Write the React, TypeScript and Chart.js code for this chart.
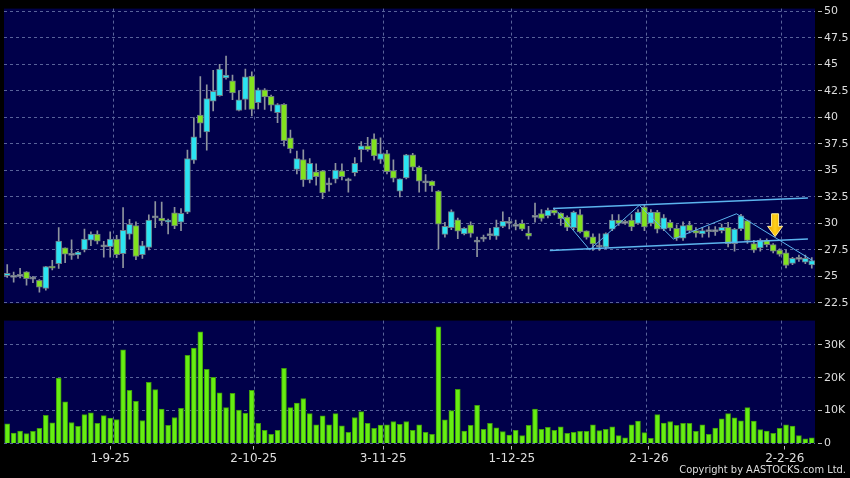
import React, { useEffect, useRef } from "react";
import { Chart, registerables } from "chart.js";

Chart.register(...registerables);

// ---------- data ----------
const openP = [
  25.1, 25.0, 25.1, 25.43, 24.85, 24.63, 23.86, 25.95, 26.2, 27.69,
  27.07, 27.03, 27.5, 28.42, 28.98, 27.9, 27.8, 28.52, 27.13, 28.98,
  29.8, 27.04, 27.72, 30.6, 30.5, 30.1, 31.0, 30.1, 31.05, 35.96,
  40.2, 38.62, 41.53, 42.05, 43.72, 43.44, 40.66, 41.68, 43.89, 41.38,
  42.6, 41.97, 40.43, 41.22, 38.06, 35.09, 36.02, 34.1, 34.85, 34.94,
  33.73, 34.17, 34.94, 34.1, 34.78, 36.94, 37.31, 37.96, 36.02, 36.57,
  34.97, 33.04, 34.29, 36.46, 35.3, 33.92, 33.98, 33.04, 28.95, 29.6,
  30.32, 29.0, 29.85, 28.32, 28.6, 28.94, 28.8, 29.72, 30.1, 29.8,
  30.0, 29.08, 30.65, 30.92, 30.7, 31.25, 30.96, 30.6, 29.6, 30.83,
  29.29, 28.73, 27.85, 27.75, 29.44, 30.31, 30.1, 30.31, 30.0, 31.54,
  30.0, 31.05, 29.44, 30.09, 29.54, 28.61, 29.85, 29.32, 29.0, 29.32,
  29.3, 29.32, 29.63, 28.09, 29.47, 30.25, 28.09, 27.68, 28.4, 27.99,
  27.47, 27.22, 26.23, 26.7, 26.33, 26.08,
];
const highP = [
  26.1, 25.4, 25.75, 25.45, 25.0, 24.7, 25.95, 26.5, 29.6, 27.7,
  28.45, 27.35, 29.46, 29.2, 29.3, 28.3, 29.2, 28.86, 31.48, 30.37,
  30.15, 28.3, 30.8, 32.05, 32.0, 30.4, 31.5, 31.4, 36.9, 39.97,
  43.83, 43.05, 44.44, 45.0, 45.77, 43.98, 42.44, 44.54, 44.29, 42.75,
  42.7, 42.1, 41.3, 41.3, 38.8, 36.82, 36.94, 36.1, 35.6, 35.0,
  34.26, 35.65, 35.6, 34.26, 36.2, 37.72, 38.12, 38.43, 38.06, 36.88,
  36.0, 34.2, 36.5, 36.6, 35.4, 34.6, 34.0, 33.1, 30.1, 31.27,
  30.5, 29.6, 30.15, 28.7, 28.9, 29.54, 30.3, 31.08, 30.56, 30.3,
  30.3, 29.72, 31.92, 31.3, 31.45, 31.45, 31.0, 30.7, 31.15, 31.3,
  29.3, 29.0, 29.0, 29.1, 30.83, 30.83, 30.3, 30.83, 31.3, 31.76,
  31.3, 31.23, 30.83, 30.3, 29.85, 30.15, 30.2, 29.6, 29.63, 29.7,
  29.7, 29.94, 30.1, 29.54, 30.86, 30.3, 28.4, 28.55, 28.55, 28.1,
  27.6, 27.47, 26.8, 27.0, 27.0, 26.76,
];
const lowP = [
  24.9, 24.45, 24.85, 24.17, 24.4, 23.5, 23.7, 25.6, 25.74, 26.3,
  26.6, 26.7, 27.3, 27.9, 28.05, 26.8, 26.8, 26.76, 25.83, 28.5,
  26.57, 26.7, 27.5, 29.6, 29.8, 29.0, 29.5, 29.3, 30.9, 35.65,
  38.1, 36.9, 40.59, 42.0, 43.6, 41.67, 40.6, 40.74, 40.12, 40.8,
  40.74, 40.6, 39.5, 37.3, 36.64, 34.66, 33.49, 33.8, 33.6, 32.32,
  33.03, 33.8, 34.1, 32.93, 34.47, 35.8, 36.8, 35.96, 35.65, 34.66,
  33.9, 32.5, 34.2, 35.0, 32.93, 33.0, 33.0, 27.62, 28.7, 29.4,
  28.55, 28.9, 28.7, 26.85, 28.3, 28.49, 28.49, 29.6, 29.47, 29.38,
  29.3, 28.5, 30.1, 30.2, 30.5, 30.8, 29.8, 29.3, 29.4, 29.1,
  28.5, 27.44, 27.44, 27.6, 29.3, 29.8, 29.9, 29.3, 29.9, 29.3,
  29.75, 29.1, 29.3, 29.3, 28.4, 28.4, 29.1, 28.7, 28.7, 28.7,
  28.85, 29.1, 27.78, 27.38, 29.3, 28.1, 27.25, 27.38, 27.78, 27.2,
  26.9, 25.8, 26.1, 26.4, 26.2, 25.77,
];
const closeP = [
  25.25, 25.0, 25.1, 24.78, 24.8, 23.98, 25.93, 25.8, 28.33, 27.1,
  27.07, 27.3, 28.52, 28.98, 28.33, 27.87, 28.52, 27.04, 29.35, 29.9,
  26.87, 27.9, 30.31, 30.6, 30.22, 30.3, 29.75, 30.95, 36.1, 38.15,
  39.45, 41.76, 42.44, 44.54, 43.99, 42.3, 41.65, 43.82, 40.75, 42.6,
  41.93, 41.15, 41.2, 37.8, 37.04, 36.11, 34.1, 35.65, 34.41, 32.87,
  33.73, 35.03, 34.41, 34.1, 35.65, 37.31, 36.94, 36.36, 36.57, 34.88,
  34.26, 34.2, 36.46, 35.3, 33.98, 33.92, 33.52, 29.92, 29.72, 31.12,
  29.25, 29.56, 29.05, 28.32, 28.6, 28.94, 29.65, 30.2, 30.1, 29.8,
  29.46, 28.78, 30.65, 30.46, 31.25, 30.96, 30.45, 29.62, 31.05, 29.2,
  28.67, 28.06, 27.85, 29.04, 30.31, 30.0, 30.1, 29.66, 31.05, 29.66,
  31.05, 29.44, 30.52, 29.54, 28.61, 29.78, 29.32, 29.07, 29.32, 29.32,
  29.3, 29.63, 28.09, 29.47, 30.71, 28.4, 27.47, 28.4, 27.99, 27.38,
  27.07, 26.02, 26.7, 26.7, 26.7, 26.48,
];
// volume in thousands of shares
const volumeK = [
  6.0, 3.2, 3.8, 3.0, 3.7, 4.6, 8.6, 6.3, 19.9, 12.7,
  6.4, 5.2, 8.8, 9.3, 6.1, 8.5, 7.7, 7.3, 28.5, 16.2,
  12.8, 7.0, 18.6, 16.4, 10.5, 5.5, 7.9, 10.7, 26.8, 29.0,
  34.0, 22.6, 20.1, 15.4, 10.9, 15.3, 10.2, 9.2, 16.2, 6.1,
  4.0, 2.8, 4.0, 22.9, 10.9, 12.3, 13.7, 9.1, 5.7, 8.4,
  5.7, 9.1, 5.4, 3.4, 7.9, 9.7, 6.1, 4.6, 5.6, 5.7,
  6.7, 5.8, 6.7, 4.0, 5.7, 3.4, 2.8, 35.5, 7.2, 10.0,
  16.5, 3.8, 5.5, 11.6, 4.3, 6.1, 4.8, 3.6, 2.6, 4.0,
  2.4, 5.5, 10.5, 4.3, 4.9, 4.0, 5.1, 3.1, 3.4, 3.7,
  3.7, 5.7, 3.9, 4.3, 5.1, 2.4, 1.7, 5.7, 6.8, 3.3,
  1.6, 8.8, 6.2, 6.7, 5.5, 6.1, 6.1, 3.7, 5.7, 2.8,
  4.7, 7.5, 9.1, 7.8, 6.9, 10.9, 6.8, 4.2, 3.8, 3.1,
  4.6, 5.7, 5.3, 2.4, 1.4, 1.7,
];

const priceTicks = [22.5, 25, 27.5, 30, 32.5, 35, 37.5, 40, 42.5, 45, 47.5, 50];
const volumeTicks = [0, 10000, 20000, 30000];
const monthLabels = ["1-9-25", "2-10-25", "3-11-25", "1-12-25", "2-1-26", "2-2-26"];
const monthLabelAt = [16.0, 38.3, 58.4, 78.4, 99.7, 120.8];
const monthGridAt = [16.55, 38.4, 58.4, 78.4, 99.35, 120.3];

// drawn trend lines and arrow (bar index, price)
const channelUpper = [{ x: 84.8, y: 31.4 }, { x: 124.4, y: 32.38 }];
const channelLower = [{ x: 84.3, y: 27.44 }, { x: 124.4, y: 28.52 }];
const zigzag = [
  { x: 85.5, y: 31.1 }, { x: 90.5, y: 27.5 }, { x: 98.2, y: 31.7 },
  { x: 103.5, y: 28.52 }, { x: 113.3, y: 30.9 }, { x: 125.1, y: 26.5 },
];
const arrowMark = { x: 119.3, top: 30.9, tip: 28.75 };

// ---------- styles ----------
const UP = "#2be4f2";
const DOWN = "#82e21e";
const FLAT = "#9ca2aa";
const WICK = "#8e949e";
const BODY_BORDER = "#6c7884";
const VOL = "#66ee12";
const VOL_BORDER = "#3f9c0c";
const PLOT_BG = "#00004a";
const GRID = "#59639a";
const TEXT = "#dedede";
const TREND = "#5cb4ee";
const FONT = "'DejaVu Sans', sans-serif";
const X_MIN = -0.5;
const X_MAX = 125.5;

const plotBg = {
  id: "plotBg",
  beforeDraw(chart: any) {
    const { ctx, chartArea: a } = chart;
    ctx.save();
    ctx.fillStyle = PLOT_BG;
    ctx.fillRect(a.left, a.top, a.right - a.left, a.bottom - a.top);
    ctx.restore();
  },
};

const arrowPlugin = {
  id: "arrowMark",
  afterDatasetsDraw(chart: any) {
    const { ctx, scales } = chart;
    const cx = scales.x.getPixelForValue(arrowMark.x);
    const yTop = scales.y.getPixelForValue(arrowMark.top);
    const yTip = scales.y.getPixelForValue(arrowMark.tip);
    const h = yTip - yTop;
    const headY = yTop + h * 0.55;
    const sw = 3.5;
    const hw = 7.5;
    ctx.save();
    const g = ctx.createLinearGradient(cx - hw, 0, cx + hw, 0);
    g.addColorStop(0, "#e79a00");
    g.addColorStop(0.5, "#ffd21a");
    g.addColorStop(1, "#e79a00");
    ctx.beginPath();
    ctx.moveTo(cx - sw, yTop);
    ctx.lineTo(cx + sw, yTop);
    ctx.lineTo(cx + sw, headY);
    ctx.lineTo(cx + hw, headY);
    ctx.lineTo(cx, yTip);
    ctx.lineTo(cx - hw, headY);
    ctx.lineTo(cx - sw, headY);
    ctx.closePath();
    ctx.fillStyle = g;
    ctx.fill();
    ctx.lineWidth = 1;
    ctx.strokeStyle = "#fff2a0";
    ctx.stroke();
    ctx.restore();
  },
};

function gridAxis(height: number) {
  return {
    type: "linear",
    min: X_MIN,
    max: X_MAX,
    offset: false,
    ticks: { display: false },
    grid: { color: GRID, drawTicks: false, offset: false },
    border: { display: false, dash: [3, 3] },
    afterBuildTicks: (s: any) => {
      s.ticks = monthGridAt.map((v) => ({ value: v }));
    },
    afterFit: (s: any) => {
      s.height = height;
    },
  };
}

function yAxis(min: number, max: number, ticks: number[], fmt: (v: number) => string) {
  return {
    type: "linear",
    position: "right",
    min,
    max,
    afterBuildTicks: (s: any) => {
      s.ticks = ticks.map((v) => ({ value: v }));
    },
    ticks: {
      color: TEXT,
      font: { family: FONT, size: 11 },
      padding: 2,
      callback: (v: any) => fmt(Number(v)),
    },
    grid: {
      color: GRID,
      tickColor: "#b8b8b8",
      tickLength: 7,
      tickBorderDash: [0, 3, 4, 100],
    },
    border: { display: false, dash: [3, 3] },
    afterFit: (s: any) => {
      s.width = 35;
    },
  };
}

export default function App() {
  const priceRef = useRef<HTMLCanvasElement>(null);
  const volRef = useRef<HTMLCanvasElement>(null);

  useEffect(() => {
    Chart.defaults.font.family = FONT;
    const idx = closeP.map((_, i) => i);
    const bodies = idx.map((i) => {
      const lo = Math.min(openP[i], closeP[i]);
      const hi = Math.max(openP[i], closeP[i]);
      const mid = (lo + hi) / 2;
      return hi - lo < 0.2 ? { x: i, y: [mid - 0.1, mid + 0.1] } : { x: i, y: [lo, hi] };
    });
    const bodyColors = idx.map((i) => {
      const d = closeP[i] - openP[i];
      if (Math.abs(d) < 0.08) return FLAT;
      return d > 0 ? UP : DOWN;
    });
    const wicks = idx.map((i) => ({ x: i, y: [lowP[i], highP[i]] }));

    const price = new Chart(priceRef.current as HTMLCanvasElement, {
      type: "bar",
      data: {
        datasets: [
          {
            type: "line",
            data: channelUpper,
            borderColor: TREND,
            borderWidth: 1.5,
            pointRadius: 0,
            order: -2,
          } as any,
          {
            type: "line",
            data: channelLower,
            borderColor: TREND,
            borderWidth: 1.5,
            pointRadius: 0,
            order: -2,
          } as any,
          {
            type: "line",
            data: zigzag,
            borderColor: TREND,
            borderWidth: 1,
            pointRadius: 0,
            order: -1,
          } as any,
          {
            type: "bar",
            data: bodies,
            backgroundColor: bodyColors,
            borderColor: BODY_BORDER,
            borderWidth: 1,
            borderSkipped: false,
            barThickness: 6,
            grouped: false,
            order: 0,
          } as any,
          {
            type: "bar",
            data: wicks,
            backgroundColor: WICK,
            borderWidth: 0,
            barThickness: 1,
            grouped: false,
            order: 1,
          } as any,
        ],
      },
      options: {
        responsive: false,
        animation: false,
        events: [],
        layout: { padding: { left: 4, top: 6, right: 0, bottom: 0 } },
        plugins: { legend: { display: false }, tooltip: { enabled: false } },
        scales: {
          x: gridAxis(6) as any,
          y: yAxis(22.45, 50.25, priceTicks, (v) => String(v)) as any,
        },
      },
      plugins: [plotBg, arrowPlugin],
    });

    const vol = new Chart(volRef.current as HTMLCanvasElement, {
      type: "bar",
      data: {
        datasets: [
          {
            data: volumeK.map((v, i) => ({ x: i, y: v * 1000 })),
            backgroundColor: VOL,
            borderColor: VOL_BORDER,
            borderWidth: 1,
            barThickness: 5,
          } as any,
        ],
      },
      options: {
        responsive: false,
        animation: false,
        events: [],
        layout: { padding: { left: 4, top: 7, right: 0, bottom: 0 } },
        plugins: { legend: { display: false }, tooltip: { enabled: false } },
        scales: {
          x: { ...(gridAxis(0) as any), weight: 1 },
          x2: {
            type: "linear",
            position: "bottom",
            weight: 0,
            min: X_MIN,
            max: X_MAX,
            offset: false,
            afterBuildTicks: (s: any) => {
              s.ticks = monthLabelAt.map((v) => ({ value: v }));
            },
            ticks: {
              autoSkip: false,
              maxRotation: 0,
              color: TEXT,
              font: { family: FONT, size: 12 },
              padding: 2,
              callback: (_v: any, i: number) => monthLabels[i],
            },
            grid: {
              drawOnChartArea: false,
              offset: false,
              color: "#b8b8b8",
              tickLength: 6,
              tickBorderDash: [0, 2, 4, 100],
            },
            border: { display: false },
            afterFit: (s: any) => {
              s.height = 34.5;
            },
          } as any,
          y: yAxis(0, 37400, volumeTicks, (v) => (v === 0 ? "0" : v / 1000 + "K")) as any,
        },
      },
      plugins: [plotBg],
    });

    return () => {
      price.destroy();
      vol.destroy();
    };
  }, []);

  return (
    <div
      style={{
        position: "absolute",
        left: 0,
        top: 0,
        width: 850,
        height: 478,
        background: "#000",
        overflow: "hidden",
      }}
    >
      <canvas ref={priceRef} width={850} height={312} style={{ position: "absolute", left: 0, top: 0 }} />
      <canvas ref={volRef} width={850} height={166} style={{ position: "absolute", left: 0, top: 312 }} />
      <div
        style={{
          position: "absolute",
          right: 4,
          top: 463,
          fontFamily: "'DejaVu Sans Condensed', 'DejaVu Sans', sans-serif",
          fontStretch: "condensed",
          fontSize: 11,
          lineHeight: "14px",
          color: TEXT,
          whiteSpace: "nowrap",
        }}
      >
        Copyright by AASTOCKS.com Ltd.
      </div>
    </div>
  );
}
